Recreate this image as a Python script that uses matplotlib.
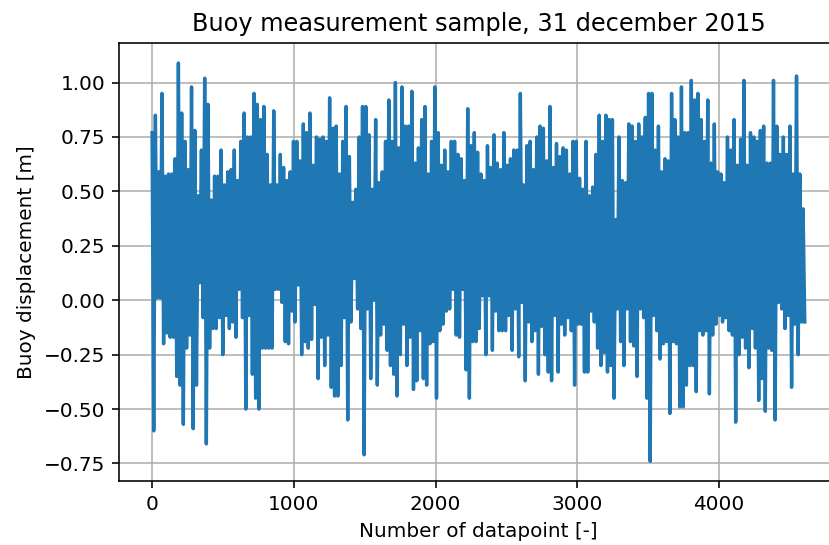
import matplotlib

matplotlib.use("Agg")
import matplotlib.pyplot as plt
import numpy as np
from matplotlib.ticker import MultipleLocator

# Buoy record 31-12-2015: successive crest / trough heights [m],
# one crest-trough pair per ~23 datapoints
crest = [
    0.77, 0.85, 0.59, 0.95, 0.57, 0.58, 0.58, 0.65, 1.09, 0.86,
    0.73, 0.60, 0.98, 0.78, 0.48, 0.69, 1.02, 0.90, 0.46, 0.57,
    0.57, 0.69, 0.53, 0.59, 0.60, 0.69, 0.55, 0.73, 0.86, 0.75,
    0.75, 0.95, 0.90, 0.83, 0.89, 0.67, 0.53, 0.87, 0.53, 0.67,
    0.61, 0.55, 0.59, 0.73, 0.73, 0.64, 0.81, 0.77, 0.86, 0.62,
    0.75, 0.74, 0.75, 0.73, 0.93, 0.79, 0.80, 0.58, 0.73, 0.89,
    0.66, 0.45, 0.51, 0.75, 0.89, 0.89, 0.76, 0.51, 0.83, 0.54,
    0.59, 0.73, 0.92, 0.73, 1.00, 0.70, 0.98, 0.80, 0.80, 0.96,
    0.63, 0.70, 0.83, 0.89, 0.58, 0.73, 0.98, 0.77, 0.62, 0.69,
    0.59, 0.73, 0.73, 0.67, 0.65, 0.55, 0.88, 0.71, 0.77, 0.68,
    0.58, 0.55, 0.71, 0.61, 0.76, 0.63, 0.60, 0.77, 0.62, 0.65,
    0.69, 0.69, 0.95, 0.53, 0.71, 0.73, 0.60, 0.75, 0.80, 0.79,
    0.64, 0.89, 0.61, 0.72, 0.66, 0.70, 0.69, 0.58, 0.73, 0.73,
    0.56, 0.51, 0.73, 0.48, 0.52, 0.67, 0.85, 0.73, 0.85, 0.83,
    0.83, 0.37, 0.75, 0.55, 0.54, 0.81, 0.80, 0.73, 0.81, 0.75,
    0.84, 0.95, 0.95, 0.69, 0.80, 0.59, 0.65, 0.64, 0.95, 0.83,
    0.75, 0.98, 0.77, 0.77, 1.01, 0.92, 0.95, 0.83, 0.73, 0.92,
    0.63, 0.81, 0.59, 0.58, 0.54, 0.75, 0.69, 0.83, 0.62, 0.74,
    1.01, 0.62, 0.77, 0.75, 0.73, 0.78, 0.80, 0.63, 0.63, 1.01,
    0.80, 0.67, 0.75, 0.67, 0.80, 0.58, 1.03, 0.58, 0.42,
]
trough = [
    -0.60, 0.01, 0.01, -0.20, -0.15, -0.17, -0.17, -0.35, -0.39, -0.57,
    -0.22, -0.16, -0.59, -0.39, 0.08, -0.08, -0.66, -0.22, -0.13, -0.13,
    -0.08, -0.25, -0.07, -0.13, -0.10, -0.17, 0.05, -0.08, -0.50, -0.07,
    -0.34, -0.45, -0.50, -0.22, -0.22, -0.22, -0.22, 0.05, 0.05, -0.01,
    -0.19, -0.20, -0.05, -0.10, 0.07, -0.25, -0.19, -0.22, -0.18, -0.02,
    -0.36, -0.17, -0.30, -0.16, -0.40, -0.44, -0.44, -0.30, -0.08, -0.55,
    -0.10, 0.10, -0.04, -0.13, -0.71, -0.04, -0.36, 0.00, -0.39, -0.16,
    -0.11, -0.23, -0.30, -0.34, -0.44, -0.25, -0.11, -0.30, -0.17, -0.41,
    -0.37, -0.14, -0.36, -0.39, -0.20, -0.19, -0.45, -0.14, -0.11, -0.05,
    -0.04, 0.05, -0.16, -0.17, 0.05, -0.32, -0.45, -0.19, -0.19, -0.13,
    0.02, -0.25, 0.02, -0.23, -0.05, -0.14, -0.14, -0.14, -0.07, -0.23,
    -0.04, -0.26, -0.01, -0.37, -0.10, -0.19, -0.14, -0.34, -0.12, -0.25,
    -0.33, -0.37, -0.07, -0.33, -0.11, -0.16, -0.08, -0.14, -0.39, -0.11,
    -0.11, -0.33, -0.33, -0.05, -0.10, -0.22, -0.30, -0.24, -0.33, -0.30,
    -0.45, -0.04, -0.19, -0.30, -0.04, -0.19, -0.21, -0.35, -0.04, -0.08,
    -0.45, -0.74, -0.07, -0.14, -0.27, -0.20, -0.19, -0.52, -0.19, -0.20,
    -0.49, -0.49, -0.39, -0.30, -0.30, -0.42, -0.14, -0.16, -0.14, -0.43,
    -0.16, -0.11, -0.07, -0.10, -0.08, -0.14, -0.16, -0.56, -0.25, -0.17,
    -0.22, -0.31, -0.13, -0.22, -0.46, -0.36, -0.51, -0.22, -0.23, -0.55,
    -0.01, -0.04, -0.13, -0.07, -0.40, -0.11, -0.25, -0.10, -0.10,
]
half_period = 11.6  # datapoints between a crest and the next trough

# crest, trough, crest, ... as one displacement signal
displacement = np.empty(2 * len(crest))
displacement[0::2] = crest
displacement[1::2] = trough
datapoint = np.arange(len(displacement)) * half_period

fig = plt.figure(figsize=(829 / 144, 545 / 144), dpi=144)
# axes run a little past the right edge of the saved image
ax = fig.add_axes([0.1441, 0.117, 0.866, 0.804])
ax.plot(datapoint, displacement, linewidth=1.7)
ax.xaxis.set_major_locator(MultipleLocator(1000))
ax.yaxis.set_major_locator(MultipleLocator(0.25))
ax.grid(True)
ax.set_title("Buoy measurement sample, 31 december 2015")
ax.set_xlabel("Number of datapoint [-]")
ax.set_ylabel("Buoy displacement [m]")

fig.savefig("out.png", dpi=144)
